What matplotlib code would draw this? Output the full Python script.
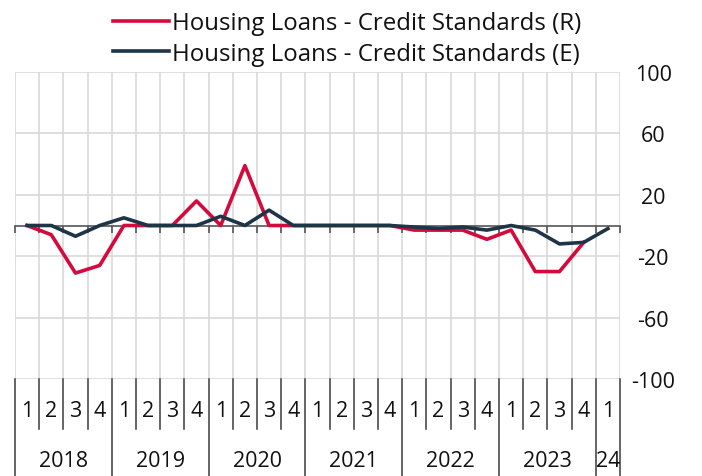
import matplotlib.pyplot as plt
import matplotlib.transforms as mtransforms
import numpy as np

plt.rcParams['font.family'] = ['Open Sans', 'DejaVu Sans']

#====Data====
years = ['2018', '2019', '2020', '2021', '2022', '2023', '24']
quarters = ['1', '2', '3', '4'] * 6 + ['1']
# realised (R) - no value yet for 2024 Q1
realised = [0, -6, -31, -26, 0, 0, 0, 16, 0, 39, 0, 0,
            0, 0, 0, 0, -3, -3, -3, -9, -3, -30, -30, -11]
# expected (E)
expected = [0, 0, -7, 0, 5, 0, 0, 0, 6, 0, 10, 0,
            0, 0, 0, 0, -1, -2, -1, -3, 0, -3, -12, -11, -2]

red = '#D50A3C'
navy = '#1E3447'
grid_c = '#D9D9D9'
sep_c = '#3A3A3A'

fig = plt.figure(figsize=(7.02, 4.77), dpi=100)
ax = fig.add_axes([15/702, 1-380/477, 605/702, 307/477])

n = len(quarters)
x_r = np.arange(len(realised)) + 0.5
x_e = np.arange(len(expected)) + 0.5

ax.plot(x_r, realised, color=red, lw=2.6, label='Housing Loans - Credit Standards (R)', zorder=4)
ax.plot(x_e, expected, color=navy, lw=2.6, label='Housing Loans - Credit Standards (E)', zorder=5)

ax.set_xlim(0, n)
ax.set_ylim(-100, 100)

# grid
for b in range(n + 1):
    ax.axvline(b, color=grid_c, lw=1.2, zorder=1)
for v in [-100, -60, -20, 20, 60, 100]:
    ax.axhline(v, color=grid_c, lw=1.2, zorder=1)

for s in ['top', 'left', 'right']:
    ax.spines[s].set_visible(False)
ax.spines['bottom'].set_position(('data', 0))
ax.spines['bottom'].set_color('#555555')
ax.spines['bottom'].set_linewidth(1.2)
ax.spines['bottom'].set_zorder(3)
ax.set_xticks(np.arange(n + 1))
ax.tick_params(axis='x', direction='out', length=5, width=1.2, color='#555555', labelbottom=False)

ax.yaxis.tick_right()
ax.set_yticks([-100, -60, -20, 20, 60, 100])
ax.set_yticklabels(['-100', '-60', '-20', '20', '60', '100'])
ax.tick_params(axis='y', length=0, pad=24, labelsize=15.5, labelcolor='#111111')
for lab in ax.get_yticklabels():
    lab.set_horizontalalignment('center')

# category axis below
trans = mtransforms.blended_transform_factory(ax.transData, ax.transAxes)
for i, q in enumerate(quarters):
    ax.text(i + 0.5, -0.104, q, transform=trans, ha='center', va='center',
            fontsize=15.5, color='#111111')
year_starts = [0, 4, 8, 12, 16, 20, 24, 25]
for k, y in enumerate(years):
    mid = (year_starts[k] + year_starts[k + 1]) / 2
    ax.text(mid, -0.265, y, transform=trans, ha='center', va='center',
            fontsize=15.5, color='#111111')
for b in range(n + 1):
    bottom = -0.32 if b in year_starts else -0.163
    ax.plot([b, b], [0, bottom], transform=trans, color=sep_c, lw=1.1,
            clip_on=False)

fig.legend(loc='upper center', bbox_to_anchor=(0.495, 1.02), ncol=1, frameon=False,
           fontsize=17.3, handlelength=2.3, handletextpad=0.15, labelspacing=0.28,
           labelcolor='#111111')

plt.savefig('out.png', dpi=100)
